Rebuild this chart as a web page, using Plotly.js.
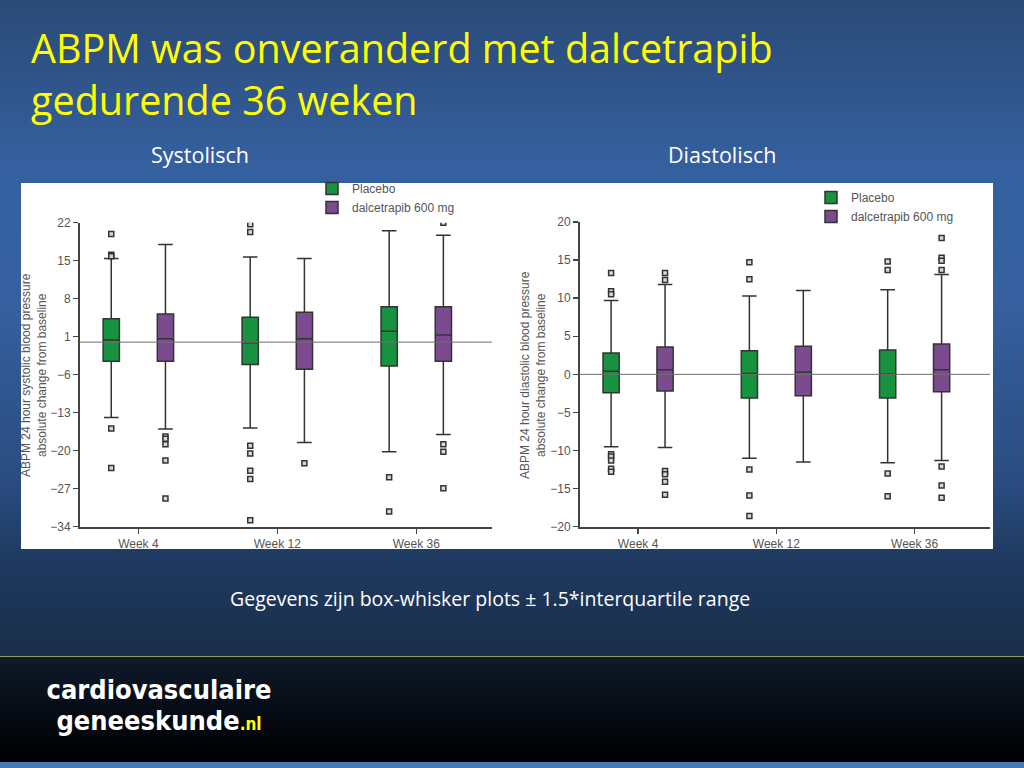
<!DOCTYPE html>
<html>
<head>
<meta charset="utf-8">
<script src="https://cdn.plot.ly/plotly-3.0.1.min.js"></script>
<style>
  html, body { margin: 0; padding: 0; width: 1024px; height: 768px; overflow: hidden; background: #000; }
  #bg { position: absolute; left: 0; top: 0; width: 1024px; height: 656px;
        background: linear-gradient(to bottom, #2b4a78 0px, #3560a0 170px, #3660a0 300px, #2a4c80 480px, #1f3a60 560px, #1a2e4a 655px); }
  #line { position: absolute; left: 0; top: 656px; width: 1024px; height: 1px; background: #8e9c5c; }
  #footer { position: absolute; left: 0; top: 657px; width: 1024px; height: 105px;
        background: linear-gradient(to bottom, #0f1a2b 0px, #050a12 60px, #000 105px); }
  #strip { position: absolute; left: 0; top: 762px; width: 1024px; height: 6px; background: #4a79b8; }
  #chart { position: absolute; left: 0; top: 0; width: 1024px; height: 768px; }
  .logo { position: absolute; left: 39px; width: 240px; text-align: center; white-space: nowrap;
          font-family: 'DejaVu Sans Condensed', 'DejaVu Sans', sans-serif; font-weight: bold;
          font-size: 27px; line-height: 31px; color: #fff; z-index: 5; }
  #logo1 { top: 674px; }
  #logo2 { top: 705px; }
  .nl { color: #ffff00; font-size: 17px; }
</style>
</head>
<body>
<div id="bg"></div>
<div id="line"></div>
<div id="footer"></div>
<div id="strip"></div>
<div id="chart"></div>
<div class="logo" id="logo1">cardiovasculaire</div>
<div class="logo" id="logo2">geneeskunde<span class="nl">.nl</span></div>
<script>
// ---------- DATA ----------
const categories = ['Week 4', 'Week 12', 'Week 36'];
const seriesNames = ['Placebo', 'dalcetrapib 600 mg'];

// Systolic (mmHg change from baseline)
const sysPlaceboQ1     = [-3.5, -4.1, -4.4];
const sysPlaceboMedian = [0.4, -0.1, 2.0];
const sysPlaceboQ3     = [4.3, 4.6, 6.5];
const sysPlaceboLow    = [-13.9, -15.8, -20.2];
const sysPlaceboHigh   = [15.4, 15.7, 20.5];
const sysPlaceboOut    = [[19.9, 16.1, 15.8, -15.9, -23.2],
                          [21.7, 20.3, -19.1, -20.5, -23.7, -25.2, -32.8],
                          [-24.9, -31.2]];
const sysDalcQ1        = [-3.5, -5.0, -3.5];
const sysDalcMedian    = [0.6, 0.6, 1.3];
const sysDalcQ3        = [5.2, 5.5, 6.5];
const sysDalcLow       = [-16.0, -18.5, -17.0];
const sysDalcHigh      = [18.0, 15.4, 19.7];
const sysDalcOut       = [[-17.4, -17.8, -18.8, -21.8, -28.8],
                          [-22.3],
                          [22.0, -18.8, -20.2, -26.9]];

// Diastolic
const diaPlaceboQ1     = [-2.4, -3.1, -3.1];
const diaPlaceboMedian = [0.4, 0.1, 0.0];
const diaPlaceboQ3     = [2.8, 3.1, 3.2];
const diaPlaceboLow    = [-9.5, -11.0, -11.6];
const diaPlaceboHigh   = [9.7, 10.3, 11.1];
const diaPlaceboOut    = [[13.3, 10.9, 10.5, -10.5, -10.8, -11.3, -12.4, -12.8],
                          [14.7, 12.5, -12.5, -15.9, -18.6],
                          [14.8, 13.7, -13.0, -16.0]];
const diaDalcQ1        = [-2.2, -2.8, -2.3];
const diaDalcMedian    = [0.6, 0.3, 0.6];
const diaDalcQ3        = [3.6, 3.7, 4.0];
const diaDalcLow       = [-9.6, -11.5, -11.3];
const diaDalcHigh      = [11.8, 11.0, 13.1];
const diaDalcOut       = [[13.3, 12.4, -12.7, -13.1, -14.1, -15.8],
                          [],
                          [17.9, 15.3, 14.9, 13.7, -12.1, -14.6, -16.2]];

const sysTicks = [-34, -27, -20, -13, -6, 1, 8, 15, 22];
const diaTicks = [-20, -15, -10, -5, 0, 5, 10, 15, 20];
const baseline = 0;

// ---------- STYLE ----------
const GREEN = '#17933f';
const PURPLE = '#7c4a8e';
const EDGE = '#333333';
const AXC = '#444444';
const TXT = '#555555';
const FONT = 'Liberation Sans, Arial, sans-serif';
const SLIDE = 'Open Sans, Noto Sans, sans-serif';

function boxTrace(name, color, group, q1, med, q3, lo, hi, xa, ya, legend) {
  return {
    type: 'box', name: name, x: categories, offsetgroup: group,
    q1: q1, median: med, q3: q3, lowerfence: lo, upperfence: hi,
    xaxis: xa, yaxis: ya, legend: legend, showlegend: true,
    fillcolor: color, line: { color: EDGE, width: 1.5 },
    whiskerwidth: 0.9, boxpoints: false, hoverinfo: 'skip'
  };
}
function outTrace(outs, group, xa, ya) {
  const xs = [], ys = [];
  outs.forEach((arr, i) => arr.forEach(v => { xs.push(categories[i]); ys.push(v); }));
  return {
    type: 'scatter', mode: 'markers', x: xs, y: ys, xaxis: xa, yaxis: ya,
    offsetgroup: group, showlegend: false, hoverinfo: 'skip',
    marker: { symbol: 'square', size: 5, color: '#d8d8d8', line: { color: EDGE, width: 1.5 } }
  };
}

const data = [
  boxTrace(seriesNames[0], GREEN, 'p', sysPlaceboQ1, sysPlaceboMedian, sysPlaceboQ3, sysPlaceboLow, sysPlaceboHigh, 'x', 'y', 'legend'),
  boxTrace(seriesNames[1], PURPLE, 'd', sysDalcQ1, sysDalcMedian, sysDalcQ3, sysDalcLow, sysDalcHigh, 'x', 'y', 'legend'),
  boxTrace(seriesNames[0], GREEN, 'p', diaPlaceboQ1, diaPlaceboMedian, diaPlaceboQ3, diaPlaceboLow, diaPlaceboHigh, 'x2', 'y2', 'legend2'),
  boxTrace(seriesNames[1], PURPLE, 'd', diaDalcQ1, diaDalcMedian, diaDalcQ3, diaDalcLow, diaDalcHigh, 'x2', 'y2', 'legend2'),
  outTrace(sysPlaceboOut, 'p', 'x', 'y'),
  outTrace(sysDalcOut, 'd', 'x', 'y'),
  outTrace(diaPlaceboOut, 'p', 'x2', 'y2'),
  outTrace(diaDalcOut, 'd', 'x2', 'y2')
];

const W = 1024, H = 768;
const px = v => v / W;
const py = v => 1 - v / H;

function xAxis(domain, anchor) {
  return {
    domain: domain, anchor: anchor, type: 'category', range: [-0.42, 2.545],
    showline: true, linecolor: AXC, linewidth: 2, ticks: 'outside', ticklen: 5,
    tickwidth: 1.5, tickcolor: AXC, showgrid: false, zeroline: false,
    tickfont: { family: FONT, size: 12, color: TXT }, fixedrange: true
  };
}
function yAxis(domain, anchor, range, ticks) {
  return {
    domain: domain, anchor: anchor, range: range, tickmode: 'array', tickvals: ticks,
    showline: true, linecolor: AXC, linewidth: 2, ticks: 'outside', ticklen: 5,
    tickwidth: 1.5, tickcolor: AXC, showgrid: false, zeroline: false,
    tickfont: { family: FONT, size: 12, color: TXT }, fixedrange: true
  };
}

const layout = {
  width: W, height: H,
  margin: { l: 0, r: 0, t: 0, b: 0, pad: 0 },
  paper_bgcolor: 'rgba(0,0,0,0)', plot_bgcolor: 'rgba(0,0,0,0)',
  boxmode: 'group', boxgap: 0.22, boxgroupgap: 0.7,
  scattermode: 'group', scattergap: 0.22,
  xaxis: xAxis([px(80), px(492)], 'y'),
  yaxis: yAxis([py(526.7), py(222.7)], 'x', [-34, 22], sysTicks),
  xaxis2: xAxis([px(580), px(990)], 'y2'),
  yaxis2: yAxis([py(526.7), py(222)], 'x2', [-20, 20], diaTicks),
  legend: { x: px(312), y: py(174), xanchor: 'left', yanchor: 'top', bgcolor: 'rgba(0,0,0,0)',
            font: { family: FONT, size: 12, color: TXT }, tracegroupgap: 0 },
  legend2: { x: px(811), y: py(183), xanchor: 'left', yanchor: 'top', bgcolor: 'rgba(0,0,0,0)',
            font: { family: FONT, size: 12, color: TXT }, tracegroupgap: 0 },
  shapes: [
    { type: 'rect', xref: 'paper', yref: 'paper', x0: px(21), x1: px(993), y0: py(549), y1: py(183),
      fillcolor: '#ffffff', line: { width: 0 }, layer: 'below' },
    { type: 'line', xref: 'x domain', yref: 'y', x0: 0, x1: 1, y0: baseline, y1: baseline,
      layer: 'above', line: { color: '#6e6e6e', width: 1 } },
    { type: 'line', xref: 'x2 domain', yref: 'y2', x0: 0, x1: 1, y0: baseline, y1: baseline,
      layer: 'above', line: { color: '#6e6e6e', width: 1 } }
  ],
  annotations: [
    { text: 'ABPM was onveranderd met dalcetrapib', x: px(29), y: py(48), xref: 'paper', yref: 'paper',
      xanchor: 'left', yanchor: 'middle', showarrow: false,
      font: { family: SLIDE, size: 39.5, color: '#ffff00' } },
    { text: 'gedurende 36 weken', x: px(29), y: py(100), xref: 'paper', yref: 'paper',
      xanchor: 'left', yanchor: 'middle', showarrow: false,
      font: { family: SLIDE, size: 39.5, color: '#ffff00' } },
    { text: 'Systolisch', x: px(200), y: py(155), xref: 'paper', yref: 'paper',
      xanchor: 'center', yanchor: 'middle', showarrow: false,
      font: { family: SLIDE, size: 21.5, color: '#ffffff' } },
    { text: 'Diastolisch', x: px(722), y: py(155), xref: 'paper', yref: 'paper',
      xanchor: 'center', yanchor: 'middle', showarrow: false,
      font: { family: SLIDE, size: 21.5, color: '#ffffff' } },
    { text: 'Gegevens zijn box-whisker plots ± 1.5*interquartile range', x: px(490), y: py(598),
      xref: 'paper', yref: 'paper', xanchor: 'center', yanchor: 'middle', showarrow: false,
      font: { family: SLIDE, size: 19.5, color: '#ffffff' } },
    { text: 'ABPM 24 hour systolic blood pressure<br>absolute change from baseline',
      x: px(34), y: py(375), xref: 'paper', yref: 'paper', xanchor: 'center', yanchor: 'middle',
      textangle: -90, showarrow: false, font: { family: FONT, size: 12, color: TXT } },
    { text: 'ABPM 24 hour diastolic blood pressure<br>absolute change from baseline',
      x: px(533), y: py(375), xref: 'paper', yref: 'paper', xanchor: 'center', yanchor: 'middle',
      textangle: -90, showarrow: false, font: { family: FONT, size: 12, color: TXT } }
  ]
};

Plotly.newPlot('chart', data, layout, { staticPlot: true, displayModeBar: false });
</script>
</body>
</html>
